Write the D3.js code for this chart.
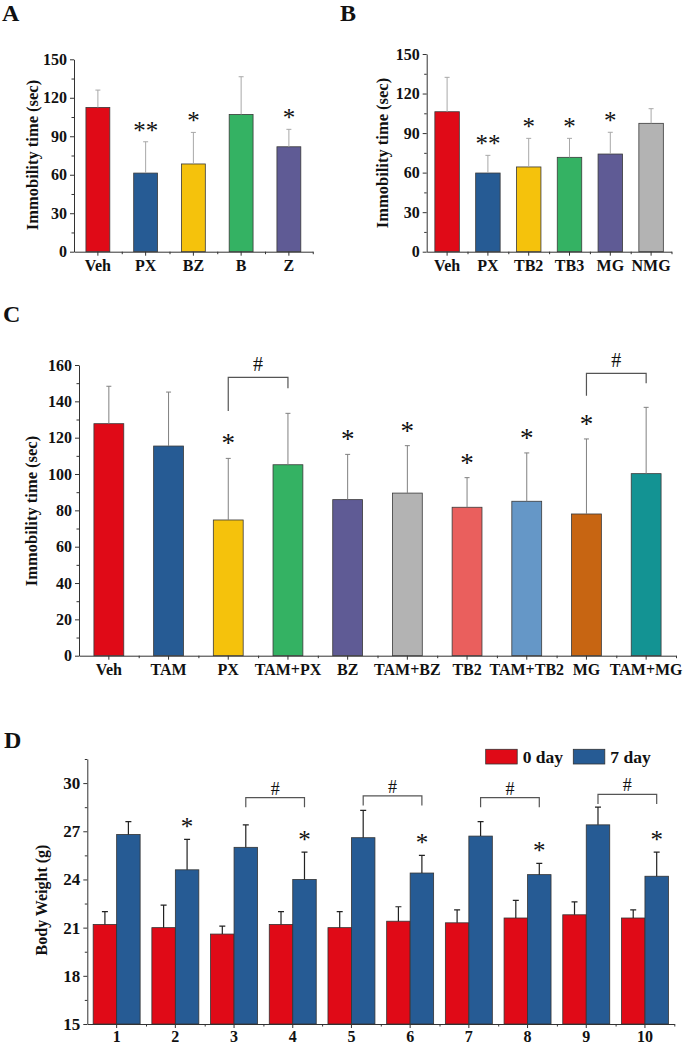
<!DOCTYPE html>
<html>
<head>
<meta charset="utf-8">
<script src="https://cdn.jsdelivr.net/npm/d3@7"></script>
<style>
  body { margin: 0; background: #fff; }
  svg { display: block; }
  text { font-family: "Liberation Serif", "Times New Roman", serif; fill: #111; }
</style>
</head>
<body>
<div id="fig"></div>
<script>
// ---- data ----
// A
const groupsA = ['Veh', 'PX', 'BZ', 'B', 'Z'];
const meanA = [112.5, 61.3, 68.4, 107, 81.8];
const sdA = [13.5, 24.4, 24.6, 29.4, 13.6];
const starsA = ['', '**', '*', '', '*'];
// B
const groupsB = ['Veh', 'PX', 'TB2', 'TB3', 'MG', 'NMG'];
const meanB = [106.2, 59.7, 64.3, 71.6, 74.1, 97.4];
const sdB = [26.1, 13.4, 21.7, 14.4, 16.5, 11.1];
const starsB = ['', '**', '*', '*', '*', ''];
// C
const groupsC = ['Veh', 'TAM', 'PX', 'TAM+PX', 'BZ', 'TAM+BZ', 'TB2', 'TAM+TB2', 'MG', 'TAM+MG'];
const meanC = [127.7, 115.4, 74.7, 105.1, 85.9, 89.5, 81.7, 85, 78, 100.2];
const sdC = [20.6, 29.7, 33.9, 28.3, 24.9, 26.1, 16.3, 26.6, 41.3, 36.5];
const starsC = ['', '', '*', '', '*', '*', '*', '*', '*', ''];
// brackets: [from, to, top, leftEnd, rightEnd] in data units
const bracketsC = [['PX', 'TAM+PX', 153.2, 134.7, 147.2], ['MG', 'TAM+MG', 155.4, 143.1, 149.9]];
// D
const groupsD = ['1', '2', '3', '4', '5', '6', '7', '8', '9', '10'];
const seriesD = ['0 day', '7 day'];
const day0 = [21.2, 21.0, 20.6, 21.2, 21.0, 21.4, 21.3, 21.6, 21.8, 21.6];
const day0sd = [0.8, 1.4, 0.5, 0.8, 1.0, 0.9, 0.8, 1.1, 0.8, 0.5];
const day7 = [26.8, 24.6, 26.0, 24.0, 26.6, 24.4, 26.7, 24.3, 27.4, 24.2];
const day7sd = [0.8, 1.9, 1.4, 1.7, 1.7, 1.1, 0.9, 0.7, 1.1, 1.5];
const starsD = ['', '*', '', '*', '', '*', '', '*', '', '*'];
const bracketsD = [['3', '4', 29.1, 28.5, 28.5], ['5', '6', 29.2, 28.6, 28.6], ['7', '8', 29.1, 28.5, 28.5], ['9', '10', 29.3, 28.7, 28.7]];

// colours
const colorsA = ['#e00a17', '#265b94', '#f5c20c', '#34b263', '#5f5b95'];
const colorsB = ['#e00a17', '#265b94', '#f5c20c', '#34b263', '#5f5b95', '#b3b3b3'];
const colorsC = ['#e00a17', '#265b94', '#f5c20c', '#34b263', '#5f5b95', '#b3b3b3', '#ea5f5d', '#6597c7', '#c76512', '#139393'];
const colorsD = ['#e00a17', '#265b94'];

const svg = d3.select('#fig').append('svg').attr('width', 685).attr('height', 1049);

function styleAxis(sel, size) {
  sel.attr('font-family', '"Liberation Serif", "Times New Roman", serif')
     .attr('font-size', size).attr('font-weight', 'bold');
  sel.selectAll('path, line').attr('stroke', '#333');
  sel.selectAll('text').attr('fill', '#111');
}

function axes(g, x, y, o, n) {
  const major = d3.range(o.yd[0], o.yd[1] + 0.001, o.major);
  const minor = d3.range(o.yd[0] + o.major / 2, o.yd[1] + 0.001, o.major).filter(v => !major.includes(v));
  const ya = g.append('g').attr('transform', `translate(${o.xr[0]},0)`)
    .call(d3.axisLeft(y).tickValues(major).tickSize(4).tickSizeOuter(0).tickPadding(3));
  styleAxis(ya, o.fs);
  const ym = g.append('g').attr('transform', `translate(${o.xr[0]},0)`)
    .call(d3.axisLeft(y).tickValues(minor).tickSize(2.5).tickFormat(''));
  ym.select('.domain').remove();
  styleAxis(ym, o.fs);

  const base = y(o.yd[0]);
  const xa = g.append('g').attr('transform', `translate(0,${base})`)
    .call(d3.axisBottom(x).tickSize(4).tickSizeOuter(0).tickPadding(o.xpad || 4));
  styleAxis(xa, o.xfs || o.fs);
  const xl = d3.scaleLinear().domain([0, n]).range(x.range());
  const xm = g.append('g').attr('transform', `translate(0,${base})`)
    .call(d3.axisBottom(xl).tickValues(d3.range(1, n + 1)).tickSize(2.5).tickFormat(''));
  xm.select('.domain').remove();
  styleAxis(xm, o.fs);
}

function drawPanel(o) {
  const g = svg.append('g');
  const x = d3.scaleBand().domain(o.groups).range(o.xr).paddingInner(o.pi).paddingOuter(o.pi / 2);
  const y = d3.scaleLinear().domain(o.yd).range(o.yr);
  const cx = d => x(d) + x.bandwidth() / 2;

  g.selectAll('rect').data(o.groups).join('rect')
    .attr('x', d => x(d)).attr('y', (d, i) => y(o.mean[i]))
    .attr('width', x.bandwidth()).attr('height', (d, i) => y(o.yd[0]) - y(o.mean[i]))
    .attr('fill', (d, i) => o.colors[i]).attr('stroke', '#3a3a3a').attr('stroke-width', 0.8);

  g.selectAll('path.err').data(o.groups).join('path').attr('class', 'err')
    .attr('d', (d, i) => {
      const t = y(o.mean[i] + o.sd[i]);
      return `M${cx(d)},${y(o.mean[i])}V${t}M${cx(d) - 2.5},${t}H${cx(d) + 2.5}`;
    })
    .attr('stroke', o.errColor).attr('stroke-width', 1).attr('fill', 'none');

  g.selectAll('text.star').data(o.groups).join('text').attr('class', 'star')
    .attr('x', d => cx(d)).attr('y', (d, i) => y(o.mean[i] + o.sd[i]) - o.starGap)
    .attr('text-anchor', 'middle').attr('font-size', o.starSize)
    .text((d, i) => o.stars[i]);

  (o.brackets || []).forEach(b => {
    const x1 = cx(b[0]), x2 = cx(b[1]);
    g.append('path').attr('d', `M${x1},${y(b[3])}V${y(b[2])}H${x2}V${y(b[4])}`)
      .attr('stroke', '#555').attr('stroke-width', 1.2).attr('fill', 'none');
    g.append('text').attr('x', (x1 + x2) / 2).attr('y', y(b[2]) - 6)
      .attr('text-anchor', 'middle').attr('font-size', 20).text('#');
  });

  axes(g, x, y, o, o.groups.length);

  g.append('text').attr('transform', `translate(${o.titlePos[0]},${o.titlePos[1]}) rotate(-90)`)
    .attr('text-anchor', 'middle').attr('font-size', 16.5).attr('font-weight', 'bold')
    .text('Immobility time (sec)');
  g.append('text').attr('x', o.letterPos[0]).attr('y', o.letterPos[1])
    .attr('font-size', 24).attr('font-weight', 'bold').text(o.letter);
}

drawPanel({
  groups: groupsA, mean: meanA, sd: sdA, stars: starsA, colors: colorsA,
  xr: [74, 312.75], yr: [251.7, 59.3], yd: [0, 150], major: 30, pi: 0.5, fs: 16,
  errColor: '#a8a8a8', starSize: 25, starGap: 3,
  titlePos: [38, 155], letter: 'A', letterPos: [2, 21]
});
drawPanel({
  groups: groupsB, mean: meanB, sd: sdB, stars: starsB, colors: colorsB,
  xr: [426.7, 671.5], yr: [251.7, 54], yd: [0, 150], major: 30, pi: 0.4, fs: 16,
  errColor: '#a8a8a8', starSize: 25, starGap: 3,
  titlePos: [388, 153], letter: 'B', letterPos: [340, 21]
});
drawPanel({
  groups: groupsC, mean: meanC, sd: sdC, stars: starsC, colors: colorsC, brackets: bracketsC,
  xr: [79, 676], yr: [655.7, 365], yd: [0, 160], major: 20, pi: 0.5, fs: 16,
  errColor: '#808080', starSize: 27, starGap: 6,
  titlePos: [36.5, 511], letter: 'C', letterPos: [3, 322]
});

// ---- D: grouped bars ----
(function () {
  const g = svg.append('g');
  const xr = [87.3, 674.3];
  const x = d3.scaleBand().domain(groupsD).range(xr).paddingInner(0.2).paddingOuter(0.1);
  const xs = d3.scaleBand().domain(seriesD).range([0, x.bandwidth()]);
  const y = d3.scaleLinear().domain([15, 31.5]).range([1024, 759]);
  const vals = [day0, day7], sds = [day0sd, day7sd];

  seriesD.forEach((s, k) => {
    const cx = d => x(d) + xs(s) + xs.bandwidth() / 2;
    g.selectAll(null).data(groupsD).join('rect')
      .attr('x', d => x(d) + xs(s)).attr('y', (d, i) => y(vals[k][i]))
      .attr('width', xs.bandwidth()).attr('height', (d, i) => y(15) - y(vals[k][i]))
      .attr('fill', colorsD[k]).attr('stroke', '#333').attr('stroke-width', 0.8);
    g.selectAll(null).data(groupsD).join('path')
      .attr('d', (d, i) => {
        const t = y(vals[k][i] + sds[k][i]);
        return `M${cx(d)},${y(vals[k][i])}V${t}M${cx(d) - 3},${t}H${cx(d) + 3}`;
      })
      .attr('stroke', '#222').attr('stroke-width', 1.2).attr('fill', 'none');
  });

  const cb = d => x(d) + xs('7 day') + xs.bandwidth() / 2;
  g.selectAll(null).data(groupsD).join('text')
    .attr('x', d => cb(d)).attr('y', (d, i) => y(day7[i] + day7sd[i]) - 4)
    .attr('text-anchor', 'middle').attr('font-size', 25).text((d, i) => starsD[i]);

  bracketsD.forEach(b => {
    const x1 = cb(b[0]), x2 = cb(b[1]);
    g.append('path').attr('d', `M${x1},${y(b[3])}V${y(b[2])}H${x2}V${y(b[4])}`)
      .attr('stroke', '#555').attr('stroke-width', 1.2).attr('fill', 'none');
    g.append('text').attr('x', (x1 + x2) / 2).attr('y', y(b[2]) - 3)
      .attr('text-anchor', 'middle').attr('font-size', 18).text('#');
  });

  axes(g, x, y, { yd: [15, 31.5], major: 3, xr: xr, fs: 17, xfs: 16, xpad: 3 }, groupsD.length);

  g.append('text').attr('transform', 'translate(46.5,900) rotate(-90)')
    .attr('text-anchor', 'middle').attr('font-size', 16).attr('font-weight', 'bold')
    .text('Body Weight (g)');
  g.append('text').attr('x', 4).attr('y', 748)
    .attr('font-size', 24).attr('font-weight', 'bold').text('D');

  // legend
  const lx = [485.7, 573.3];
  seriesD.forEach((s, k) => {
    g.append('rect').attr('x', lx[k]).attr('y', 749.3).attr('width', 31.5).attr('height', 14.7)
      .attr('fill', colorsD[k]).attr('stroke', '#333').attr('stroke-width', 0.8);
    g.append('text').attr('x', lx[k] + 37).attr('y', 763)
      .attr('font-size', 17.5).attr('font-weight', 'bold').text(s);
  });
})();
</script>
</body>
</html>
